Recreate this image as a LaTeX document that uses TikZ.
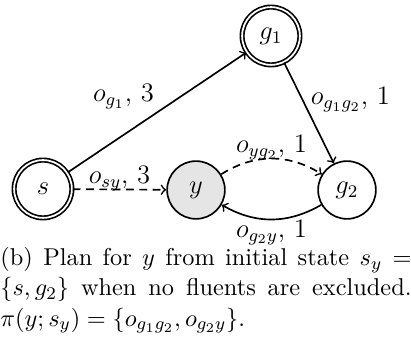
\documentclass[tikz,border=0pt]{standalone}
\usetikzlibrary{arrows}
\begin{document}
\begin{tikzpicture}[x=0.45pt,y=-0.45pt,
  state/.style={circle,draw,line width=0.75pt,minimum size=26pt,inner sep=0pt,font=\large},
  accept/.style={state,double,double distance=0.8pt},
  goalfill/.style={fill=gray!20},
  edgeline/.style={line width=0.75pt,->},
  dashline/.style={edgeline,dash pattern=on 3.5pt off 2.5pt},
  lbl/.style={font=\large}]
\useasboundingbox (0,0) rectangle (411,348);
\node[accept] (s) at (43,189) {$s$};
\node[state,goalfill] (y) at (196,190) {$y$};
\node[state] (g2) at (347,190) {$g_2$};
\node[accept] (g1) at (271,36) {$g_1$};
\draw[edgeline] (s) -- node[lbl,pos=0.5,above left,inner sep=1pt] {$o_{g_1}$, $3$} (g1);
\draw[dashline] (s) -- node[lbl,pos=0.5,anchor=south,inner sep=0pt,yshift=-1.2pt] {$o_{sy}$, $3$} (y);
\draw[edgeline] (g1) -- node[lbl,pos=0.37,right] {$o_{g_1g_2}$, $1$} (g2);
\draw[dashline] (y) to[bend left=32] node[lbl,midway,anchor=south,inner sep=0pt,yshift=-1pt] {$o_{yg_2}$, $1$} (g2);
\draw[edgeline] (g2) to[bend left=30] node[lbl,midway,anchor=north,inner sep=0pt] {$o_{g_2y}$, $1$} (y);
\node[anchor=north west,inner sep=0pt,text width=185pt,align=justify,font=\fontsize{10.95}{13.6}\selectfont] (cap) at (0,247)
  {(b) Plan for $y$ from initial state $s_y =$\linebreak
   $\{s, g_2\}$ when no fluents are excluded.\linebreak
   $\pi(y; s_y) = \{o_{g_1g_2}, o_{g_2y}\}$.};
\end{tikzpicture}
\end{document}
